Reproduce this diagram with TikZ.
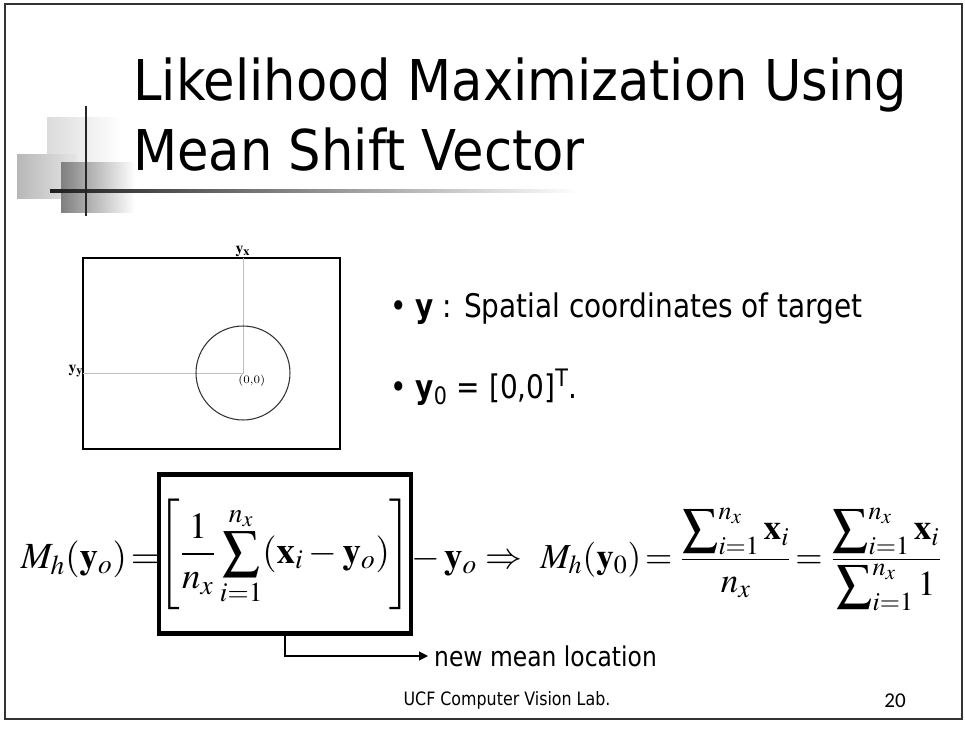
\documentclass[tikz,border=0pt]{standalone}
\usepackage{amsmath}
\usepackage{mathptmx}
\usepackage[no-math]{fontspec}
\usetikzlibrary{arrows.meta}
\newfontfamily\tahoma[FakeStretch=0.86]{DejaVu Sans}
\newfontfamily\tahomattl[FakeStretch=0.91]{DejaVu Sans}
\newfontfamily\calib{Carlito}
\newcommand{\yv}{\mathbf{y}}
\newcommand{\xv}{\mathbf{x}}

\begin{document}
\begin{tikzpicture}[x=0.02cm, y=-0.02cm,
	ttl/.style={anchor=base west, inner sep=0pt, font=\tahomattl\fontsize{32}{38}\selectfont},
	txt/.style={anchor=base west, inner sep=0pt, font=\tahoma\fontsize{18.5}{22}\selectfont},
	eq/.style={inner sep=0pt, font=\fontsize{21}{25}\selectfont},
	lbl/.style={inner sep=0pt, font=\fontsize{9}{10}\selectfont}]
	\useasboundingbox[fill=white] (0,0) rectangle (965,730);
	\draw[line width=1.3pt, black!80] (5,4) rectangle (962,719);
	% title decoration
	\fill[left color=black!14, right color=white] (47,117) rectangle (122,167);
	\fill[left color=black!28, right color=black!10] (17,154) rectangle (77,198);
	\fill[left color=black!50, right color=white] (61,162) rectangle (135,212);
	\fill[left color=black!88, middle color=black!65, right color=white] (50,189.5) rectangle (580,192.5);
	\draw[line width=1.7pt, black!85] (86,106) -- (86,216);
	\node[ttl] (t1) at (133,100) {Likelihood Maximization Using};
	\node[ttl] (t2) at (133,170) {Mean Shift Vector};
	% image frame
	\draw[line width=0.6pt] (83,258) rectangle (340,449);
	\coordinate (org) at (243,373);
	\draw[black!25, line width=0.5pt] (243,258) -- (org) -- (83,373);
	\draw[black!80, line width=0.6pt] (org) circle[radius=0.94cm];
	\node[lbl] (yx) at (243,251) {$\yv_{\mathbf{x}}$};
	\node[lbl] (yy) at (76,371) {$\yv_{\mathbf{y}}$};
	\node[lbl, font=\fontsize{6.5}{7}\selectfont, anchor=north west] (zero) at (238,375) {(0,0)};
	% bullets
	\node[txt] (b1) at (390,317) {\textbullet\ \textbf{y} : Spatial coordinates of target};
	\node[txt] (b2) at (390,398) {\textbullet\ \textbf{y}\textsubscript{0} = [0,0]\textsuperscript{T}.};
	% equations
	\node[eq, anchor=base east] (lhs) at (160,568) {$M_h(\yv_o)\mkern-2mu=$};
	\node[eq, draw, line width=2.3pt, minimum width=4.96cm, minimum height=3.18cm] (meanbox) at (285,554)
		{$\displaystyle\left[\frac{1}{n_x}\sum_{i=1}^{n_x}(\xv_i-\yv_o)\right]$};
	\node[eq, anchor=base west] (shift) at (411,568) {$-\,\yv_o \Rightarrow$};
	\node[eq, anchor=base west, font=\fontsize{20}{24}\selectfont] (rhs) at (540,568)
		{$M_h(\yv_0)\mkern-2mu= \dfrac{\displaystyle\sum\nolimits_{i=1}^{n_x}\xv_i}{n_x}
		\mkern-2mu= \dfrac{\displaystyle\sum\nolimits_{i=1}^{n_x}\xv_i}{\displaystyle\sum\nolimits_{i=1}^{n_x}1}$};
	\node[font=\tahoma\fontsize{15.5}{18}\selectfont, anchor=west] (newmean) at (428,656) {new mean location};
	\draw[-{Triangle[length=5pt,width=5pt]}, line width=0.6pt] (meanbox.south) |- (newmean.west);
	% footer
	\node[font=\tahoma\fontsize{10.5}{12}\selectfont] (lab) at (507,700) {UCF Computer Vision Lab.};
	\node[font=\calib\fontsize{12}{14}\selectfont] (num) at (895,701) {20};
\end{tikzpicture}
\end{document}
